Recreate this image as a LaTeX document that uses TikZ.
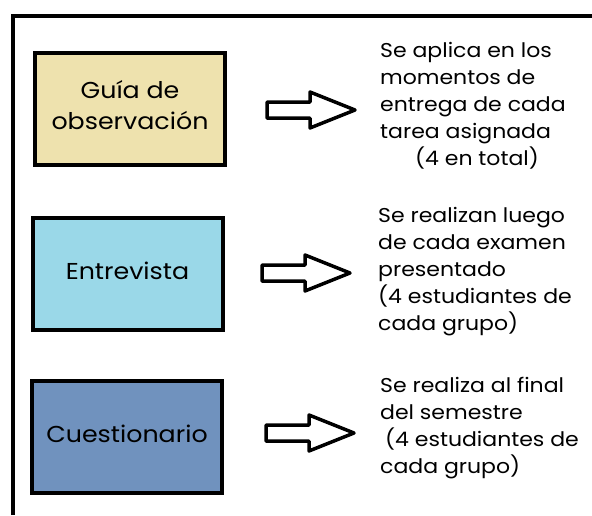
\documentclass[tikz,border=0pt]{standalone}
\usepackage{fontspec}
\setmainfont{Poppins}[FakeStretch=1.1]
\usetikzlibrary{calc}
\newcommand{\liftup}[1]{\raisebox{3pt}[\height][\depth]{#1}}
\begin{document}
\begin{tikzpicture}[x=1pt,y=-1pt,
  frameline/.style={line width=4pt},
  boxstyle/.style={draw=black, line width=4pt, minimum width=190pt, minimum height=112pt, inner sep=0pt, align=center, font=\fontsize{23}{31}\selectfont},
  desc/.style={anchor=base west, inner sep=0pt, align=left, font=\fontsize{20}{27}\selectfont},
  blockarrow/.style={draw=black, fill=white, line width=3.5pt, line join=round}
]
\definecolor{cA}{RGB}{238,226,174}
\definecolor{cB}{RGB}{154,216,232}
\definecolor{cC}{RGB}{112,146,190}
\useasboundingbox (0,0) rectangle (592,515);
% frame
\draw[frameline] (12.5,515) -- (12.5,15.5) -- (592,15.5);
% boxes
\node[boxstyle, fill=cA] (b1) at (130,108.5) {\liftup{Guía de}\\\liftup{observación}};
\node[boxstyle, fill=cB] (b2) at (127.5,273.5) {\liftup{Entrevista}};
\node[boxstyle, fill=cC] (b3) at (127,436.5) {\liftup{Cuestionario}};
% arrows
\newcommand{\blockarrowat}[1]{%
  \draw[blockarrow] ($(#1)+(-44,-8)$) -- ++(43,0) -- ++(0,-10) -- ++(45,18) -- ++(-45,18) -- ++(0,-10) -- ++(-43,0) -- cycle;}
\coordinate (a1) at (311,110);
\coordinate (a2) at (306,273);
\coordinate (a3) at (310,433);
\blockarrowat{a1}
\blockarrowat{a2}
\blockarrowat{a3}
% descriptions (anchor = baseline of last line)
\node[desc] (t1) at (380,165) {Se aplica en los\\momentos de\\entrega de cada\\tarea asignada\\\hspace*{35pt}(4 en total)};
\node[desc] (t2) at (378,330) {Se realizan luego\\de cada examen\\presentado\\(4 estudiantes de\\cada grupo)};
\node[desc] (t3) at (380,473) {Se realiza al final\\del semestre\\\hspace*{5pt}(4 estudiantes de\\cada grupo)};
\end{tikzpicture}
\end{document}
